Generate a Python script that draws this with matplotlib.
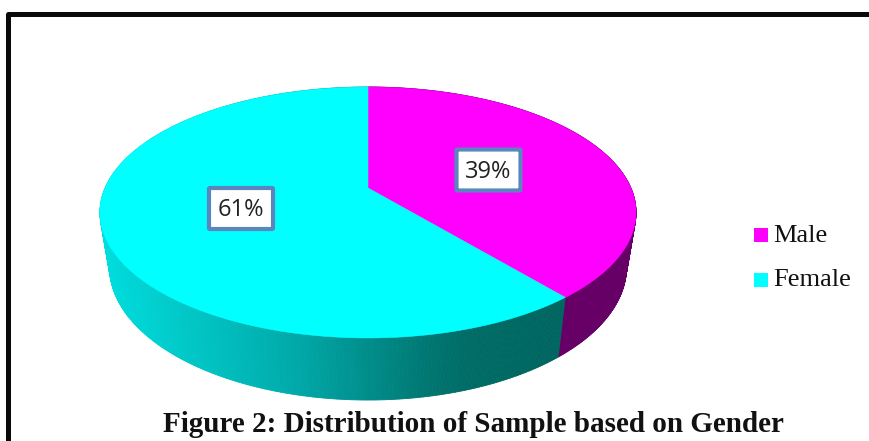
import numpy as np
import matplotlib
matplotlib.use("Agg")
import matplotlib.pyplot as plt
from matplotlib.collections import PolyCollection
from matplotlib.patches import FancyBboxPatch, Rectangle

labels = ["Male", "Female"]
shares = [39, 61]
share_labels = ["39%", "61%"]
title = "Figure 2: Distribution of Sample based on Gender"

top_colors = ["#ff00ff", "#00ffff"]
MALE_SIDE = "#660066"

# perspective pie: top and bottom rings, in pixels
CX = 368
TOP = dict(a=262.9, b=120.7, vy=188)
BOTTOM = dict(a=253.5, b=128.0, vy=241)
K = 0.195


def ring(theta, a, b, vy):
    # theta runs clockwise from 12 o'clock
    xs, ys = np.sin(theta), np.cos(theta)
    w = 1 + K * ys
    return CX + a * xs / w, vy - b * ys / w


def side_color(x):
    # cyan wall shading goes dark toward the front right
    stops = [100, 200, 300, 433, 470, 570]
    g = np.interp(x, stops, [222, 196, 168, 117, 108, 100])
    b = np.interp(x, stops, [222, 196, 168, 112, 102, 95])
    return (0, g / 255, b / 255)


fig = plt.figure(figsize=(8.69, 4.41), dpi=100)
ax = fig.add_axes([0, 0, 1, 1])
ax.set_xlim(0, 869)
ax.set_ylim(441, 0)
ax.axis("off")

# outer frame, open on the right and at the bottom
ax.plot([8, 8, 869], [441, 13.5, 13.5], color="#0a0a0a", lw=3.6,
        solid_joinstyle="round", zorder=1)

edges = np.cumsum([0] + shares) / sum(shares) * 2 * np.pi

# side wall, split into thin quads so the shading looks continuous
for i in range(len(shares)):
    th = np.linspace(edges[i], edges[i + 1], 500)
    x0, y0 = ring(th, **TOP)
    x1, y1 = ring(th, **BOTTOM)
    quads, cols = [], []
    for j in range(len(th) - 1):
        quads.append([(x0[j], y0[j]), (x0[j + 1], y0[j + 1]), (x1[j + 1], y1[j + 1]), (x1[j], y1[j])])
        cols.append(MALE_SIDE if i == 0 else side_color((x1[j] + x0[j]) / 2))
    ax.add_collection(PolyCollection(quads, facecolors=cols, edgecolors=cols, linewidths=0.6, zorder=2))

# top face
for i in range(len(shares)):
    th = np.linspace(edges[i], edges[i + 1], 300)
    x, y = ring(th, **TOP)
    ax.fill(np.r_[CX, x], np.r_[TOP["vy"], y], color=top_colors[i], lw=0.4, zorder=3)

# value boxes
box_centers = [(488.5, 170), (241, 208.5)]
for (bx, by), txt in zip(box_centers, share_labels):
    ax.add_patch(FancyBboxPatch((bx - 32, by - 20.5), 64, 41, boxstyle="round,pad=0,rounding_size=1",
                                fc="white", ec="#5b85bd", lw=3, zorder=4))
    ax.text(bx, by + 2, txt, ha="center", va="center", family="Open Sans", fontsize=17,
            color="#222222", zorder=5)

# legend
for lab, col, ly in zip(labels, top_colors, [235, 279.5]):
    ax.add_patch(Rectangle((754, ly - 7), 14, 14, fc=col, ec="none", zorder=4))
    ax.text(773, ly + 7, lab, ha="left", va="baseline", family="Liberation Serif", fontsize=19,
            color="#111111", zorder=5)

ax.text(473, 432.5, title, ha="center", va="baseline", family="Liberation Serif", fontsize=21,
        fontweight="bold", color="#111111", zorder=5)

fig.savefig("out.png", dpi=100)
